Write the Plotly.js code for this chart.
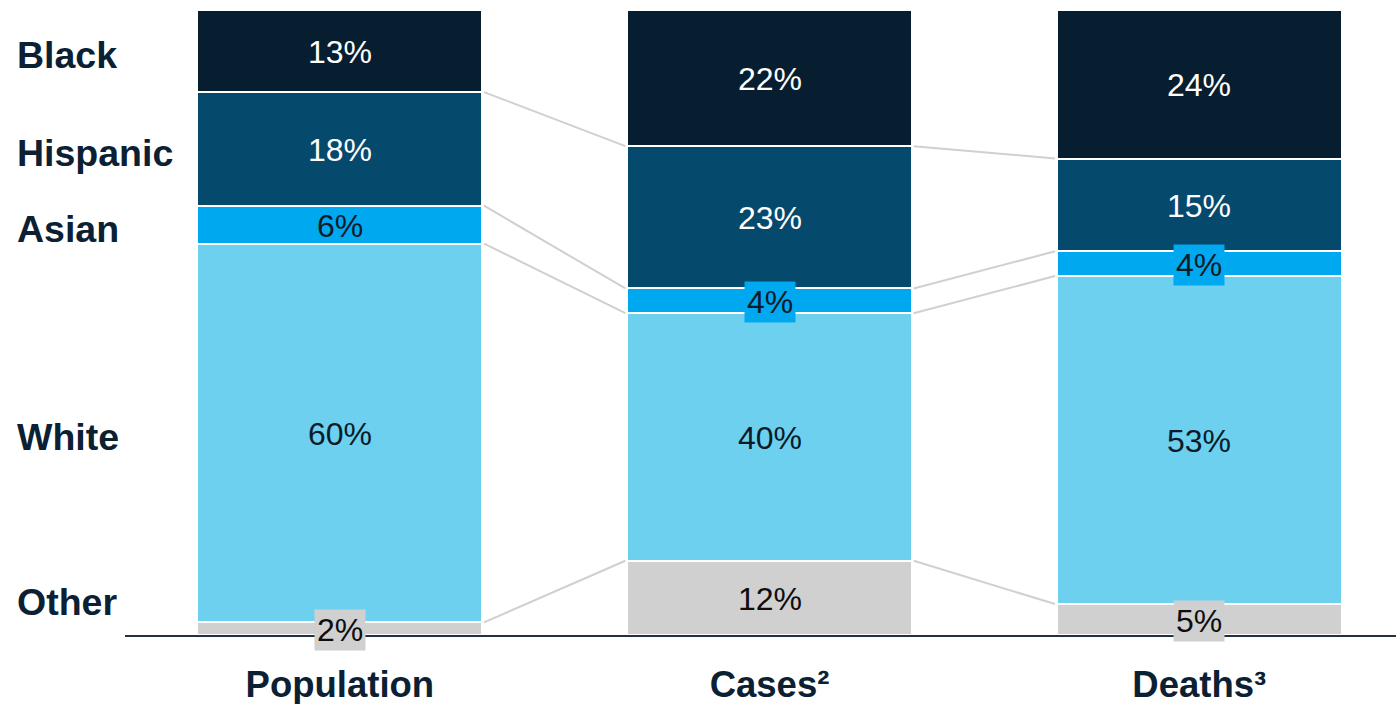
<!DOCTYPE html>
<html><head><meta charset="utf-8">
<script src="https://cdn.plot.ly/plotly-3.0.1.min.js"></script>
<style>html,body{margin:0;padding:0;background:#fff;}#chart{width:1396px;height:704px;}</style>
</head><body><div id="chart"></div>
<script>
var categories = ['Population', 'Cases²', 'Deaths³'];
var groups = ['Other', 'White', 'Asian', 'Hispanic', 'Black'];
var other    = [2, 12, 5];
var white    = [60, 40, 53];
var asian    = [6, 4, 4];
var hispanic = [18, 23, 15];
var black    = [13, 22, 24];

var series = [other, white, asian, hispanic, black];
var colors = ['#D0D0D0', '#6DD0EF', '#00A8F0', '#05496D', '#061E2F'];
var textColors = ['#0D0D0D', '#0B1B28', '#0B1B28', '#FFFFFF', '#FFFFFF'];
var xs = [0, 1, 2];
var barWidth = 0.663;

var traces = [];
series.forEach(function (vals, k) {
  traces.push({
    type: 'bar', x: xs, y: vals, name: groups[k],
    width: barWidth,
    marker: {color: colors[k], line: {color: '#FFFFFF', width: 2}},
    hoverinfo: 'skip', showlegend: false
  });
});

var totals = xs.map(function (i) { return series.reduce(function (s, v) { return s + v[i]; }, 0); });
function bound(i, k) {
  var s = 0; for (var j = 0; j <= k; j++) s += series[j][i];
  return s / totals[i] * 100;
}
function mid(i, k) { return bound(i, k) - series[k][i] / totals[i] * 50; }

for (var i = 0; i < xs.length - 1; i++) {
  for (var k = 0; k < series.length; k++) {
    var y0 = bound(i, k), y1 = bound(i + 1, k);
    if (k === series.length - 1) { y0 = 100.3; y1 = 100.3; }
    traces.push({
      type: 'scatter', mode: 'lines',
      x: [xs[i] + barWidth / 2 + 0.004, xs[i + 1] - barWidth / 2 - 0.004],
      y: [y0, y1],
      line: {color: '#D0D0D0', width: 2},
      hoverinfo: 'skip', showlegend: false, cliponaxis: false
    });
  }
}

var annotations = [];
xs.forEach(function (x, i) {
  series.forEach(function (vals, k) {
    var small = vals[i] <= 5;
    annotations.push({
      x: x, y: mid(i, k), xref: 'x', yref: 'y', yshift: -1,
      text: vals[i] + '%', showarrow: false,
      font: {family: 'Liberation Sans, Arial, sans-serif', size: 32, color: textColors[k]},
      bgcolor: small ? colors[k] : 'rgba(0,0,0,0)', borderpad: 2
    });
  });
});
var labelShift = [-31, 0, 0, 0, 0];
groups.forEach(function (g, k) {
  annotations.push({
    x: -0.0865, xref: 'paper', xanchor: 'left', y: mid(0, k), yref: 'y',
    yshift: -labelShift[k] - 4,
    text: '<b>' + g + '</b>', showarrow: false,
    font: {family: 'Liberation Sans, Arial, sans-serif', size: 37.5, color: '#0B2133'}
  });
});

var layout = {
  width: 1396, height: 704,
  margin: {l: 125, r: 0, t: 10, b: 69},
  paper_bgcolor: '#FFFFFF', plot_bgcolor: '#FFFFFF',
  barmode: 'stack', barnorm: 'percent',
  xaxis: {
    range: [-0.5, 2.458], tickvals: xs, ticktext: categories.map(function (c) { return '<b>' + c + '</b>'; }),
    showgrid: false, zeroline: false, showline: true, linecolor: '#1E3244', linewidth: 2,
    ticks: '', ticklabelstandoff: 16,
    tickfont: {family: 'Liberation Sans, Arial, sans-serif', size: 36.5, color: '#0B2133'}
  },
  yaxis: {range: [0, 100], visible: false, showgrid: false, zeroline: false},
  annotations: annotations,
  showlegend: false
};

Plotly.newPlot('chart', traces, layout, {displayModeBar: false, staticPlot: true});
</script></body></html>
